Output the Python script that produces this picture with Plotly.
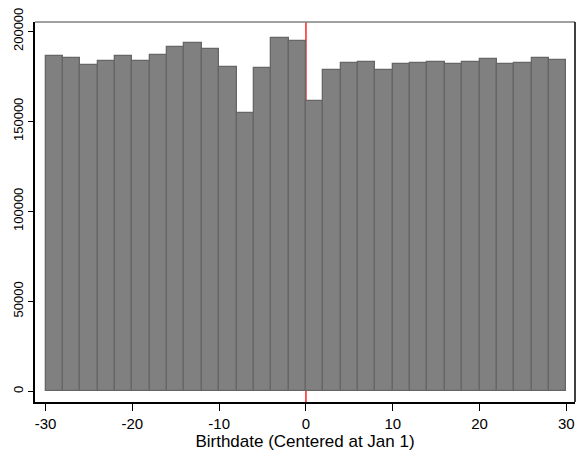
import plotly.graph_objects as go

# Histogram of births by day relative to Jan 1 (2-day bins)
bin_start = list(range(-30, 30, 2))
counts = [186300, 185200, 181500, 183500, 186300, 183500, 186900, 191500,
          193700, 190200, 180200, 154700, 179700, 196300, 194700,
          161500, 178700, 182600, 183000, 178600, 181900, 182400, 183000,
          182100, 183000, 184700, 182100, 182600, 185200, 184100]
bin_width = 2
x_ticks = [-30, -20, -10, 0, 10, 20, 30]
y_ticks = [0, 50000, 100000, 150000, 200000]
cutoff = 0

fig = go.Figure()
fig.add_trace(go.Bar(
    x=[s + bin_width / 2 for s in bin_start],
    y=counts,
    width=[bin_width] * len(counts),
    marker=dict(color="#808080", line=dict(color="#666666", width=1.3)),
    showlegend=False,
))

# cutoff line at Jan 1, behind the bars
fig.add_shape(type="line", x0=cutoff, x1=cutoff, y0=0, y1=1, xref="x", yref="paper",
              line=dict(color="red", width=1.3), layer="below")
# top and right frame of the plot region
fig.add_shape(type="line", x0=0, x1=1, y0=1, y1=1, xref="paper", yref="paper",
              line=dict(color="#808080", width=1.5))
fig.add_shape(type="line", x0=1, x1=1, y0=0, y1=1, xref="paper", yref="paper",
              line=dict(color="black", width=1.5))

font = dict(family="Liberation Sans, Arial, sans-serif", size=13, color="black")
fig.update_layout(
    width=576, height=451,
    margin=dict(l=35, r=1, t=22, b=49),
    plot_bgcolor="white", paper_bgcolor="white",
    bargap=0, font=font,
    xaxis=dict(range=[-31.22, 31.0], tickvals=x_ticks,
               ticktext=[str(v).replace("\u2212", "-") for v in x_ticks],
               tickfont=dict(size=15), ticks="outside", ticklen=7,
               tickcolor="black", showline=True, linecolor="black", linewidth=1.5,
               showgrid=False, zeroline=False,
               title=dict(text="Birthdate (Centered at Jan 1)", font=dict(size=17), standoff=3)),
    yaxis=dict(range=[-5944, 205170], tickvals=y_ticks, ticktext=[str(v) for v in y_ticks],
               tickfont=dict(size=13), ticks="outside", ticklen=5, tickcolor="black",
               tickangle=-90, showline=True, linecolor="black", linewidth=1.5,
               showgrid=False, zeroline=False),
)

fig.write_html("out.html")
